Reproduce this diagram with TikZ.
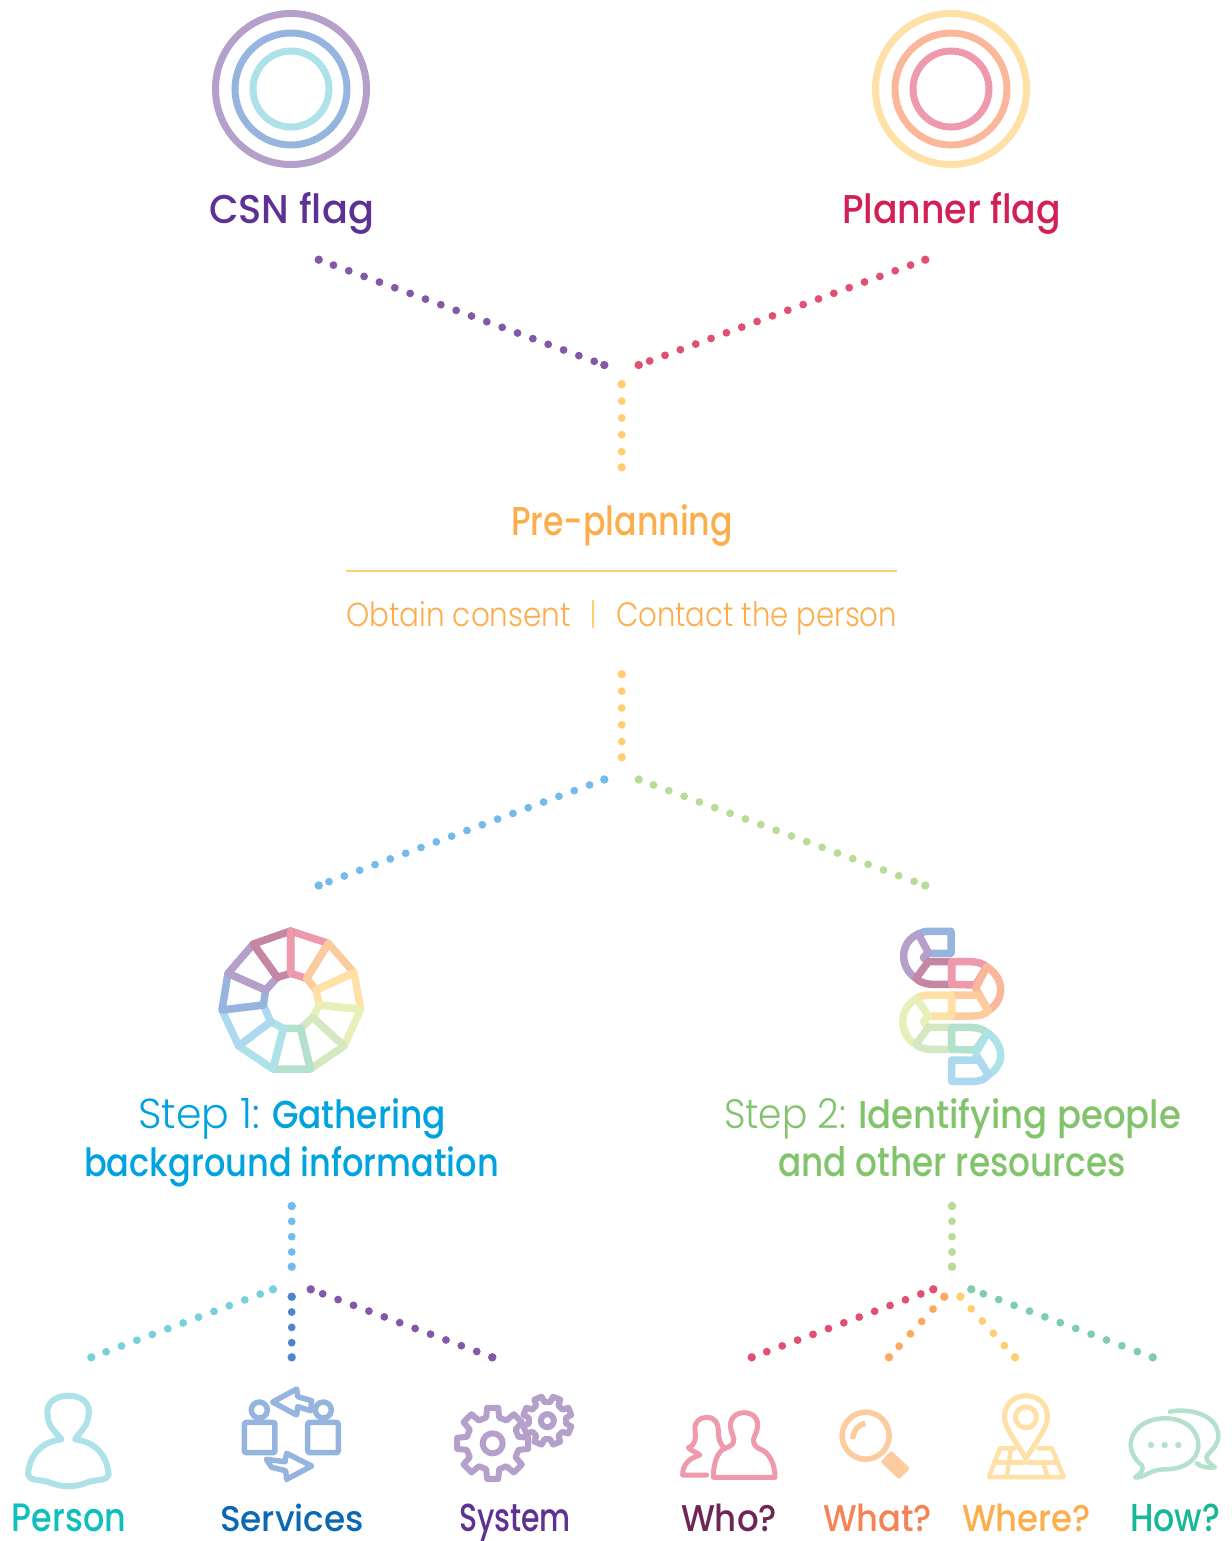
\documentclass[tikz,border=0pt]{standalone}
\usepackage{fontspec}
\usepackage{graphicx}
\setmainfont{Poppins Medium}
\newfontfamily\lightf{Poppins Light}
\definecolor{cCsn}{HTML}{5E3295}
\definecolor{cPlan}{HTML}{D21F56}
\definecolor{cPre}{HTML}{FDAE4C}
\definecolor{cStepA}{HTML}{00A3E0}
\definecolor{cStepB}{HTML}{82C46C}
\definecolor{cPerson}{HTML}{0FBFBF}
\definecolor{cServ}{HTML}{0B68B3}
\definecolor{cWho}{HTML}{6F2655}
\definecolor{cWhat}{HTML}{F58355}
\definecolor{cHow}{HTML}{17B897}
\definecolor{dPurple}{HTML}{8358A6}
\definecolor{dRed}{HTML}{E14F72}
\definecolor{dYellow}{HTML}{FFCE72}
\definecolor{dBlue}{HTML}{74BBEB}
\definecolor{dGreen}{HTML}{B6DC97}
\definecolor{dTeal}{HTML}{77D0DC}
\definecolor{dNavy}{HTML}{4F86CB}
\definecolor{dOrange}{HTML}{FCA95F}
\definecolor{dMint}{HTML}{7FCDAF}
\definecolor{pPink}{HTML}{EE9AAC}
\definecolor{pOrange}{HTML}{FCCB9E}
\definecolor{pYellow}{HTML}{FFE1A8}
\definecolor{pLime}{HTML}{E9EFB9}
\definecolor{pGreen}{HTML}{D5E8C2}
\definecolor{pMint}{HTML}{B4E0CE}
\definecolor{pTeal}{HTML}{ADE2E8}
\definecolor{pSky}{HTML}{ACD8F0}
\definecolor{pBlue}{HTML}{96B5DE}
\definecolor{pPurple}{HTML}{B5A0CB}
\definecolor{pMauve}{HTML}{C586A4}
\definecolor{pSalmon}{HTML}{FBB79A}
\newcommand{\fitw}[3]{\resizebox{#1pt}{#2pt}{#3}}
% from, to, colour, spacing, dash phase
\newcommand{\dotl}[5]{%
  \draw[draw=#3,line width=7.8pt,line cap=round,dash pattern=on 0pt off #4pt,dash phase=#5pt] (#1) -- (#2);
  \fill[#3] (#1) circle[radius=4.2pt] (#2) circle[radius=4.2pt];}
\tikzset{
  lbl/.style={inner sep=0pt,outer sep=0pt,anchor=base west},
  ring/.style={line width=7pt,fill=none},
  wedge/.style={line width=7.5pt,line join=round,line cap=round},
  icon/.style={line width=6pt,line join=round,line cap=round},
  thinicon/.style={line width=5.5pt,line join=round,line cap=round},
  zm/.style={x=0.33333pt,y=-0.33333pt}
}
\begin{document}
\begin{tikzpicture}[x=1pt,y=-1pt]
\useasboundingbox (0,0) rectangle (1231,1541);
% rings
\draw[ring,pPurple] (291,89) circle[radius=75.5pt];
\draw[ring,pBlue] (291,89) circle[radius=56pt];
\draw[ring,pTeal] (291,89) circle[radius=38pt];
\draw[ring,pYellow] (951,89) circle[radius=75.5pt];
\draw[ring,pSalmon] (951,89) circle[radius=56pt];
\draw[ring,pPink] (951,89) circle[radius=38pt];
% titles
\node[lbl,text=cCsn] (tCsn) at (209,223) {\fitw{165}{31}{CSN flag}};
\node[lbl,text=cPlan] (tPlan) at (842,223) {\fitw{219}{31}{Planner flag}};
\node[lbl,text=cPre] (tPre) at (511,535) {\fitw{222}{31}{Pre-planning}};
\node[lbl,text=cPre] (tObt) at (346,626) {\fitw{225}{25}{\lightf Obtain consent}};
\node[lbl,text=cPre] (tCon) at (616,626) {\fitw{281}{25}{\lightf Contact the person}};
\node[lbl,text=cStepA] (tS1) at (138,1128) {\fitw{122}{30}{\lightf Step 1:}};
\node[lbl,text=cStepA] (tS1g) at (272,1128) {\fitw{174}{30}{Gathering}};
\node[lbl,text=cStepA] (tS1b) at (84,1176) {\fitw{415}{30}{background information}};
\node[lbl,text=cStepB] (tS2) at (724,1128) {\fitw{122}{30}{\lightf Step 2:}};
\node[lbl,text=cStepB] (tS2i) at (858,1128) {\fitw{323}{30}{Identifying people}};
\node[lbl,text=cStepB] (tS2b) at (778,1176) {\fitw{348}{30}{and other resources}};
\node[lbl,text=cPerson] (tPerson) at (12,1531) {\fitw{114}{27.5}{Person}};
\node[lbl,text=cServ] (tServ) at (220,1531) {\fitw{144}{27.5}{Services}};
\node[lbl,text=cCsn] (tSys) at (459,1531) {\fitw{112}{27.5}{System}};
\node[lbl,text=cWho] (tWho) at (681,1531) {\fitw{96}{27.5}{Who?}};
\node[lbl,text=cWhat] (tWhat) at (823,1531) {\fitw{109}{27.5}{What?}};
\node[lbl,text=cPre] (tWhere) at (962,1531) {\fitw{129}{27.5}{Where?}};
\node[lbl,text=cHow] (tHow) at (1130,1531) {\fitw{90}{27.5}{How?}};
% rule and separator
\coordinate (ruleL) at (346,571); \coordinate (ruleR) at (897,571);
\draw[dYellow,line width=2pt] (ruleL) -- (ruleR);
\coordinate (sepT) at (593,600); \coordinate (sepB) at (593,628);
\draw[dYellow,line width=1.5pt] (sepT) -- (sepB);
% connector ends
\coordinate (a1) at (318.7,259.7); \coordinate (a2) at (604.3,365);
\coordinate (b1) at (925.3,259.7); \coordinate (b2) at (638.7,365);
\coordinate (c1) at (621.7,384.3); \coordinate (c2) at (621.7,467.3);
\coordinate (d1) at (621.7,674.3); \coordinate (d2) at (621.7,757.3);
\coordinate (e1) at (604.3,779.5); \coordinate (e2) at (318.7,885.5);
\coordinate (f1) at (638.7,779.5); \coordinate (f2) at (925.3,885.5);
\coordinate (g1) at (291.7,1206); \coordinate (g2) at (291.7,1266.7);
\coordinate (h1) at (273,1289.3); \coordinate (h2) at (91.3,1357.3);
\coordinate (i1) at (291.7,1296.7); \coordinate (i2) at (291.7,1357.3);
\coordinate (j1) at (310.7,1289.3); \coordinate (j2) at (492.3,1357.3);
\coordinate (k1) at (952,1206); \coordinate (k2) at (952,1266.7);
\coordinate (l1) at (933.3,1289.3); \coordinate (l2) at (751.7,1357.3);
\coordinate (m1) at (944.3,1296.7); \coordinate (m2) at (889,1357.3);
\coordinate (n1) at (960.3,1296.7); \coordinate (n2) at (1015,1357.3);
\coordinate (o1) at (971.3,1289.3); \coordinate (o2) at (1152.7,1357.3);
\dotl{a1}{a2}{dPurple}{16.35}{0.65}
\dotl{b1}{b2}{dRed}{16.35}{0.65}
\dotl{c1}{c2}{dYellow}{16.83}{0}
\dotl{d1}{d2}{dYellow}{16.83}{0}
\dotl{e1}{e2}{dBlue}{16.35}{0.65}
\dotl{f1}{f2}{dGreen}{16.35}{0.65}
\dotl{g1}{g2}{dBlue}{15.33}{0}
\dotl{h1}{h2}{dTeal}{16.45}{2.75}
\dotl{i1}{i2}{dNavy}{15.33}{0}
\dotl{j1}{j2}{dPurple}{16.45}{3.65}
\dotl{k1}{k2}{dGreen}{15.33}{0}
\dotl{l1}{l2}{dRed}{16.45}{3.15}
\dotl{m1}{m2}{dOrange}{16.75}{0}
\dotl{n1}{n2}{dYellow}{16.5}{0.2}
\dotl{o1}{o2}{dMint}{16.45}{3.65}
% wheel
\begin{scope}[shift={(200,920)},zm]
\coordinate (O0) at (272,33); \coordinate (I0) at (272,160);
\coordinate (O1) at (385,70); \coordinate (I1) at (320,175);
\coordinate (O2) at (462,158); \coordinate (I2) at (348,210);
\coordinate (O3) at (482,268); \coordinate (I3) at (358,255);
\coordinate (O4) at (432,378); \coordinate (I4) at (338,292);
\coordinate (O5) at (331,447); \coordinate (I5) at (302,325);
\coordinate (O6) at (219,447); \coordinate (I6) at (250,325);
\coordinate (O7) at (116,378); \coordinate (I7) at (212,305);
\coordinate (O8) at (66,270); \coordinate (I8) at (190,255);
\coordinate (O9) at (84,160); \coordinate (I9) at (197,210);
\coordinate (O10) at (160,72); \coordinate (I10) at (232,172);
\foreach \i/\j/\c in {0/1/pPink,1/2/pOrange,2/3/pYellow,3/4/pLime,4/5/pGreen,5/6/pMint,6/7/pTeal,7/8/pSky,8/9/pBlue,9/10/pPurple,10/0/pMauve}
  \draw[wedge,\c] (O\i) -- (O\j) -- (I\j) -- (I\i) -- cycle;
\draw[wedge,pPink] (I0) -- (O0);
\end{scope}
% serpent
\begin{scope}[shift={(880,920)},zm,wedge]
\draw[pBlue] (115,42) .. controls (125,36) and (135,34) .. (150,34) -- (213,34) -- (213,100) -- (145,100);
\draw[pPurple] (115,42) .. controls (60,65) and (55,140) .. (108,175);
\draw[pPurple] (115,42) -- (145,98) -- (130,113) -- (145,125);
\draw[pMauve] (145,125) -- (215,125) -- (215,193) -- (160,193) .. controls (135,193) and (118,185) .. (108,175) -- cycle;
\draw[pPink] (215,125) -- (270,125) .. controls (290,125) and (308,130) .. (320,140) -- (287,195) -- (215,193) -- cycle;
\draw[pSalmon] (320,140) .. controls (375,175) and (375,240) .. (325,272) -- (298,225) -- (287,205) -- cycle;
\draw[pOrange] (215,225) -- (295,225) -- (325,272) .. controls (315,283) and (300,288) .. (280,288) -- (215,288) -- cycle;
\draw[pYellow] (110,235) .. controls (120,227) and (135,225) .. (150,225) -- (215,225) -- (215,288) -- (145,288);
\draw[pLime] (110,235) .. controls (55,265) and (55,345) .. (108,373);
\draw[pLime] (110,235) -- (145,288) -- (130,305) -- (145,322);
\draw[pGreen] (145,322) -- (215,322) -- (215,388) -- (160,388) .. controls (135,388) and (118,385) .. (108,373) -- cycle;
\draw[pMint] (215,322) -- (270,322) .. controls (290,322) and (310,328) .. (322,338) -- (287,390) -- (215,388) -- cycle;
\draw[pTeal] (322,338) .. controls (375,375) and (375,435) .. (325,465) -- (298,420) -- (287,400) -- cycle;
\draw[pSky] (215,420) -- (298,420) -- (325,465) .. controls (315,478) and (300,484) .. (280,484) -- (215,484) -- cycle;
\end{scope}
% person
\begin{scope}[shift={(0,1380)},zm]
\draw[icon,pTeal] (185,178) .. controls (160,150) and (145,135) .. (143,110)
 .. controls (135,70) and (165,47) .. (205,47) .. controls (245,47) and (275,70) .. (265,110)
 .. controls (263,135) and (245,150) .. (225,178)
 .. controls (285,185) and (322,225) .. (326,285)
 .. controls (320,303) and (290,298) .. (265,306) .. controls (225,323) and (185,323) .. (145,306)
 .. controls (120,298) and (90,303) .. (84,285)
 .. controls (87,225) and (125,185) .. (185,178) -- cycle;
\end{scope}
% services
\begin{scope}[shift={(0,1380)},zm]
\draw[thinicon,pBlue] (778,90) circle[radius=8pt];
\draw[thinicon,pBlue] (970,90) circle[radius=8pt];
\draw[thinicon,pBlue,rounded corners=2pt] (733,127) rectangle (825,218);
\draw[thinicon,pBlue,rounded corners=2pt] (923,127) rectangle (1015,218);
\draw[thinicon,pBlue] (890,27) -- (818,66) -- (890,105) -- (893,80) -- (932,92) -- (935,62) -- (893,50) -- cycle;
\draw[thinicon,pBlue] (860,220) -- (935,258) -- (860,298) -- (857,272) -- (815,262) -- (799,238) -- (855,245) -- cycle;
\end{scope}
% gears
\begin{scope}[shift={(440,1380)},zm]
\newcommand{\gearpath}[5]{%
 \draw[thinicon,line width=6pt,pPurple] ({#1+#4*cos(#5-14)},{#2-#4*sin(#5-14)}) \foreach \k in {0,45,...,315}{
   -- ({#1+#4*cos(#5+\k-14)},{#2-#4*sin(#5+\k-14)})
   -- ({#1+#3*cos(#5+\k-9)},{#2-#3*sin(#5+\k-9)})
   -- ({#1+#3*cos(#5+\k+9)},{#2-#3*sin(#5+\k+9)})
   -- ({#1+#4*cos(#5+\k+14)},{#2-#4*sin(#5+\k+14)})
 } -- cycle;}
\gearpath{158}{190}{108}{80}{0}
\gearpath{322}{122}{74}{56}{22.5}
\draw[thinicon,line width=6pt,pPurple] (158,190) circle[radius=10pt];
\draw[thinicon,line width=6pt,pPurple] (322,122) circle[radius=6.5pt];
\end{scope}
% who
\begin{scope}[shift={(440,1380)},zm]
\draw[thinicon,line width=5pt,pPink] (855,205) .. controls (885,195) and (885,180) .. (878,165) .. controls (860,125) and (880,98) .. (912,98)
 .. controls (945,98) and (965,125) .. (945,165) .. controls (938,180) and (938,195) .. (955,205)
 .. controls (990,215) and (1005,255) .. (1005,292) -- (820,292) .. controls (820,255) and (830,215) .. (855,205) -- cycle;
\draw[thinicon,line width=5pt,pPink] (800,285) -- (728,285) .. controls (728,255) and (745,235) .. (780,225) .. controls (765,215) and (750,210) .. (745,203) .. controls (765,195) and (768,180) .. (765,150) .. controls (762,125) and (780,112) .. (800,112) .. controls (825,112) and (835,130) .. (835,150) .. controls (835,175) and (840,195) .. (855,205);
\end{scope}
% what
\begin{scope}[shift={(820,1380)},zm]
\draw[thinicon,pOrange] (137,167) circle[radius=23.5pt];
\draw[thinicon,pOrange,line cap=butt] (98,177) .. controls (100,150) and (115,133) .. (136,130);
\fill[pOrange,rounded corners=2pt] (181,245) -- (214,212) -- (270,265) -- (237,298) -- cycle;
\end{scope}
% where
\begin{scope}[shift={(820,1380)},zm]
\draw[thinicon,line width=5pt,pYellow] (618,235) .. controls (590,190) and (553,140) .. (553,112) .. controls (553,75) and (580,47) .. (618,47) .. controls (656,47) and (683,75) .. (683,112) .. controls (683,140) and (646,190) .. (618,235) -- cycle;
\draw[thinicon,line width=5pt,pYellow] (618,112) circle[radius=10.5pt];
\draw[thinicon,line width=4.5pt,pYellow] (583,205) -- (540,205) -- (507,291) -- (731,291) -- (696,205) -- (655,205);
\draw[thinicon,line width=4.5pt,pYellow] (573,205) -- (560,291);
\draw[thinicon,line width=4.5pt,pYellow] (525,248) -- (613,248);
\draw[thinicon,line width=4.5pt,pYellow] (625,248) -- (713,248);
\draw[thinicon,line width=4.5pt,pYellow] (670,250) -- (683,291);
\end{scope}
% how
\begin{scope}[shift={(820,1380)},zm]
\draw[thinicon,line width=4.5pt,pMint] (1035,115) .. controls (1095,115) and (1135,150) .. (1135,195)
 .. controls (1135,245) and (1085,268) .. (1035,268) .. controls (1020,268) and (1000,272) .. (985,280)
 .. controls (970,288) and (955,295) .. (945,292) .. controls (960,280) and (975,270) .. (965,255)
 .. controls (945,240) and (932,215) .. (932,195) .. controls (932,150) and (975,115) .. (1035,115) -- cycle;
\draw[thinicon,line width=4.5pt,pMint] (1050,95) .. controls (1090,85) and (1195,95) .. (1195,170) .. controls (1195,195) and (1170,215) .. (1160,228)
 .. controls (1155,240) and (1170,250) .. (1185,262) .. controls (1165,265) and (1145,262) .. (1130,250);
\foreach \px in {993,1034,1075}
  \fill[pMint] (\px,195) circle[radius=3.2pt];
\end{scope}
\end{tikzpicture}
\end{document}
